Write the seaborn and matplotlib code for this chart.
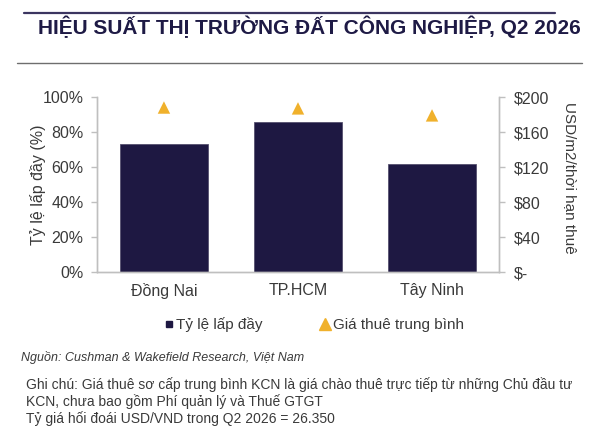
import pandas as pd
import matplotlib
matplotlib.use('Agg')
import matplotlib.pyplot as plt
import seaborn as sns
from matplotlib.lines import Line2D

# Data
provinces = ['Đồng Nai', 'TP.HCM', 'Tây Ninh']
occupancy = [73, 86, 62]          # Tỷ lệ lấp đầy (%)
avg_rent = [188, 187, 179]        # USD/m2/thời hạn thuê
left_ticks = [0, 20, 40, 60, 80, 100]
right_ticks = [0, 40, 80, 120, 160, 200]
right_labels = ['$-', '$40', '$80', '$120', '$160', '$200']

NAVY = '#1e1842'
GOLD = '#f0b12c'
GRAY = '#bfbfbf'
TXT = '#3a3a3a'

sns.set_style('white')
plt.rcParams['font.family'] = ['Liberation Sans', 'DejaVu Sans']

df = pd.DataFrame({'province': provinces, 'occupancy': occupancy, 'rent': avg_rent})

fig = plt.figure(figsize=(6.02, 4.42), dpi=100)
ax = fig.add_axes([0.161, 0.3846, 0.668, 0.3959])

sns.barplot(data=df, x='province', y='occupancy', color=NAVY, width=0.65,
            edgecolor='#55506e', linewidth=0.6, saturation=1, ax=ax)
ax.set_ylim(0, 100)
ax.set_xlim(-0.5, 2.5)
ax.set_yticks(left_ticks)
ax.set_yticklabels([f'{t}%' for t in left_ticks])
ax.set_ylabel('Tỷ lệ lấp đầy (%)', fontsize=11.5, color=TXT)
ax.yaxis.label.set(ha='center', va='center')
ax.yaxis.set_label_coords(-0.147, 0.5)
ax.set_xlabel('')

# category boundary ticks on the x axis
ax.set_xticks([-0.5, 0.5, 1.5, 2.5], minor=True)
ax.set_xticks([0, 1, 2])
ax.tick_params(axis='x', which='major', length=0, labelsize=11.5, labelcolor=TXT, pad=8)
ax.tick_params(axis='x', which='minor', length=4, color=GRAY, width=1)
ax.tick_params(axis='y', length=4, color=GRAY, width=1, labelsize=11.5, labelcolor=TXT,
               left=True, pad=5.5)

ax2 = ax.twinx()
sns.scatterplot(data=df, x='province', y='rent', marker='^', color=GOLD,
                s=80, edgecolor='none', ax=ax2, zorder=5)
ax2.set_ylim(0, 200)
ax2.set_yticks(right_ticks)
ax2.set_yticklabels(right_labels)
ax2.set_ylabel('USD/m2/thời hạn thuê', fontsize=11, color=TXT, rotation=270)
ax2.yaxis.label.set(ha='center', va='center')
ax2.yaxis.set_label_coords(1.1766, 0.54)
ax2.tick_params(axis='y', length=4, color=GRAY, width=1, labelsize=11.5, labelcolor=TXT,
                right=True, pad=7)

for a in (ax, ax2):
    a.spines['top'].set_visible(False)
    for s in ('left', 'right', 'bottom'):
        a.spines[s].set_color(GRAY)
        a.spines[s].set_linewidth(1)
    a.grid(False)

# legend
handles = [Line2D([], [], marker='s', linestyle='none', color=NAVY, markersize=5),
           Line2D([], [], marker='^', linestyle='none', color=GOLD, markersize=8)]
fig.legend(handles, ['Tỷ lệ lấp đầy', 'Giá thuê trung bình'], loc='center',
           bbox_to_anchor=(314 / 602, 1 - 325 / 442), ncol=2, frameon=False, fontsize=11,
           handletextpad=0.2, columnspacing=3.8, handlelength=0.6,
           labelcolor=TXT)

# title with lines
fig.text(309 / 602, 1 - 27 / 442, 'HIỆU SUẤT THỊ TRƯỜNG ĐẤT CÔNG NGHIỆP, Q2 2026',
         ha='center', va='center', fontsize=15, fontweight='bold', color='#1e1a45')
fig.add_artist(Line2D([24 / 602, 555 / 602], [1 - 13 / 442] * 2, color='#3b3560', lw=1.6))
fig.add_artist(Line2D([17 / 602, 582 / 602], [1 - 63 / 442] * 2, color='#6e6e6e', lw=1.0))

# source and notes
fig.text(21 / 602, 1 - 357 / 442, 'Nguồn: Cushman & Wakefield Research, Việt Nam',
         ha='left', va='center', fontsize=9, style='italic', color=TXT)
notes = ('Ghi chú: Giá thuê sơ cấp trung bình KCN là giá chào thuê trực tiếp từ những Chủ đầu tư\n'
         'KCN, chưa bao gồm Phí quản lý và Thuế GTGT\n'
         'Tỷ giá hối đoái USD/VND trong Q2 2026 = 26.350')
fig.text(26 / 602, 1 - 377 / 442, notes, ha='left', va='top', fontsize=10,
         color=TXT, linespacing=1.2)

fig.savefig('out.png', dpi=100)
